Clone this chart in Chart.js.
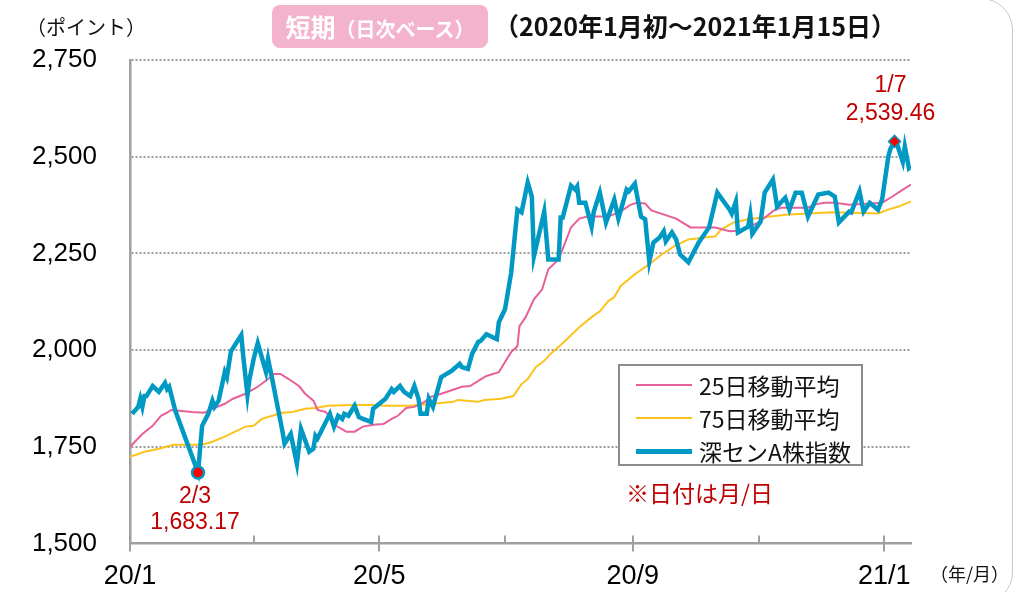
<!DOCTYPE html>
<html>
<head>
<meta charset="utf-8">
<script src="https://cdn.jsdelivr.net/npm/chart.js@4.4.0/dist/chart.umd.min.js"></script>
<style>
  body { margin: 0; background: #fff; font-family: "Noto Sans CJK JP", sans-serif; }
  #wrap { position: relative; width: 1017px; height: 592px; overflow: hidden; }
  #chart { position: absolute; left: 0; top: 0; }
  #frame { position: absolute; left: -40px; top: -2px; width: 1051px; height: 604px;
           border: 1.5px solid #c8c8c8; border-radius: 32px; }
  .unit { position: absolute; font-size: 19px; color: #111; white-space: nowrap; }
  #badge { position: absolute; left: 272px; top: 5px; width: 216px; height: 43px; background: #f4b3cd;
           border-radius: 8px; color: #fff; font-weight: bold; line-height: 43px; text-align: center; white-space: nowrap; }
  #badge .big { font-size: 25px; }
  #badge .small { font-size: 20px; }
  #period { position: absolute; left: 494px; top: 7px; font-size: 25px; font-weight: bold; color: #111; white-space: nowrap; }
  #legend { position: absolute; left: 618px; top: 364px; width: 241px; height: 98px; border: 2px solid #8c8c8c; background: #fff; }
  .row { position: absolute; left: 0; height: 30px; font-size: 23px; line-height: 30px; color: #111; white-space: nowrap; }
  .row i { position: absolute; left: 16px; top: 15px; width: 56px; }
  .row span { position: absolute; left: 79px; top: 0; }
  #note { position: absolute; left: 626px; top: 475px; font-size: 23px; color: #c00000; white-space: nowrap; }
</style>
</head>
<body>
<div id="wrap">
  <canvas id="chart" width="1017" height="592"></canvas>
  <div id="frame"></div>
  <div class="unit" style="left:26px;top:12px;font-size:20px;">（ポイント）</div>
  <div id="badge"><span class="big">短期</span><span class="small">（日次ベース）</span></div>
  <div id="period">（2020年1月初～2021年1月15日）</div>
  <div class="unit" style="left:930px;top:560px;font-size:18px;">（年/月）</div>
  <div id="legend"></div>
  <div id="note">※日付は月/日</div>
</div>
<script>
// days counted from 2020-01-01
const monthDays = [0, 60, 121, 182, 244, 305, 366];
const monthLabels = ['20/1', '', '20/5', '', '20/9', '', '21/1'];
const lastDay = 379;

const yTicks = [1500, 1750, 2000, 2250, 2500, 2750];

// 深センA株指数 (daily close)
const idxDays = [1,4,5,6,7,8,11,14,17,18,
  19,22,33,35,38,40,41,43,46,47,
  49,54,55,57,58,60,62,66,67,69,
  74,75,78,81,83,87,89,90,91,97,
  99,101,103,104,106,109,111,113,117,118,
  124,127,128,131,133,136,138,140,141,144,
  145,147,151,156,160,161,164,166,169,170,
  173,178,179,182,185,188,190,193,195,196,
  201,203,208,209,210,214,216,217,218,221,
  224,225,228,231,235,237,241,242,245,248,
  250,252,254,257,259,260,263,265,267,271,
  276,281,285,291,292,294,295,300,301,302,
  306,308,312,314,318,320,323,326,329,334,
  339,342,344,349,350,354,356,359,363,365,
  368,369,370,371,372,375,376,378,379];
const idxVals = [1835,1853,1874,1853,1881,1881,1907,1892,1915,1899,
  1905,1843,1683.17,1804,1835,1869,1853,1869,1943,1930,
  1997,2039,1982,1884,1925,1977,2018,1943,1977,1925,
  1789,1758,1783,1706,1796,1737,1745,1778,1771,1835,
  1802,1830,1822,1835,1830,1856,1827,1822,1814,1848,
  1874,1899,1892,1907,1892,1881,1907,1874,1835,1835,
  1874,1853,1930,1946,1964,1956,1951,1990,2021,2023,
  2041,2028,2072,2106,2201,2363,2356,2433,2397,2242,
  2358,2234,2234,2343,2343,2425,2415,2423,2381,2381,
  2319,2356,2407,2330,2389,2340,2415,2410,2430,2345,
  2338,2229,2278,2291,2307,2281,2304,2286,2247,2227,
  2278,2317,2407,2363,2353,2384,2304,2319,2350,2301,
  2332,2407,2441,2371,2394,2363,2407,2407,2345,2402,
  2407,2397,2330,2358,2356,2410,2358,2381,2363,2390,
  2500,2520,2530,2539.46,2536,2487,2526,2470,2474];

// 25日移動平均
const ma25Days = [0,6,11,15,18,20,30,36,40,46,50,56,62,67,70,73,77,82,85,89,91,95,100,105,109,113,118,123,127,130,
  134,138,143,146,151,155,161,165,169,173,179,182,185,188,189,192,196,200,203,208,214,218,222,232,238,243,246,250,253,265,
  272,284,291,297,305,313,316,329,332,337,342,349,365,370,375,379];
const ma25Vals = [1750,1783,1804,1830,1838,1845,1840,1838,1848,1861,1874,1887,1905,1925,1938,1938,1925,1907,1887,1869,1845,1840,1804,1789,1789,1802,1807,1809,1822,1830,
  1850,1853,1866,1879,1887,1894,1905,1907,1920,1933,1943,1969,1995,2010,2062,2085,2131,2157,2209,2234,2317,2340,2345,2345,2358,2376,2381,2379,2361,2340,
  2317,2317,2307,2309,2330,2363,2368,2368,2376,2381,2381,2376,2381,2397,2415,2428];

// 75日移動平均
const ma75Days = [0,7,14,21,35,40,46,51,56,60,64,69,74,79,85,90,96,108,118,124,136,157,159,169,172,180,186,190,193,197,
  201,204,209,213,218,224,228,232,235,238,245,252,258,264,271,284,287,293,300,307,318,341,363,368,373,379];
const ma75Vals = [1724,1737,1745,1755,1755,1763,1776,1789,1802,1804,1822,1830,1838,1840,1848,1850,1856,1858,1858,1856,1856,1866,1871,1866,1871,1874,1881,1912,1925,1956,
  1972,1990,2013,2033,2059,2085,2100,2126,2137,2165,2196,2222,2247,2268,2286,2294,2312,2330,2338,2343,2350,2356,2353,2363,2371,2384];

// marked low / high
const markDays = [33, 371];
const markVals = [1683.17, 2539.46];
const markDates = ['2/3', '1/7'];

const pts = (xs, ys) => xs.map((x, i) => ({x: x, y: ys[i]}));
const numFmt = v => v.toLocaleString('en-US', {minimumFractionDigits: 2});

const RED = '#c00000';
const BLUE = '#0099c4';

// month tick marks inside the axis
const axisMarks = {
  id: 'axisMarks',
  afterDraw(chart) {
    const {ctx, chartArea: {bottom}, scales: {x}} = chart;
    ctx.save();
    ctx.strokeStyle = '#a0a0a0';
    ctx.lineWidth = 2;
    monthDays.forEach((d, i) => {
      const px = Math.round(x.getPixelForValue(d));
      ctx.beginPath();
      ctx.moveTo(px, bottom - 8);
      ctx.lineTo(px, monthLabels[i] ? bottom + 8 : bottom);
      ctx.stroke();
    });
    ctx.restore();
  }
};

// labels for low and high points
const markText = {
  id: 'markText',
  afterDatasetsDraw(chart) {
    const {ctx, scales: {x, y}} = chart;
    ctx.save();
    ctx.font = '23px "Liberation Sans", Arial, sans-serif';
    ctx.fillStyle = RED;
    ctx.textAlign = 'center';
    ctx.textBaseline = 'middle';
    markDays.forEach((d, i) => {
      const px = x.getPixelForValue(d);
      const py = y.getPixelForValue(markVals[i]);
      if (i === 0) {
        ctx.fillText(markDates[i], px - 3, py + 24);
        ctx.fillText(numFmt(markVals[i]), px - 3, py + 50);
      } else {
        ctx.fillText(markDates[i], px - 4, py - 56);
        ctx.fillText(numFmt(markVals[i]), px - 4, py - 28);
      }
    });
    ctx.restore();
  }
};

const datasets = [
  {label: '25日移動平均', data: pts(ma25Days, ma25Vals), borderColor: '#e8609a', borderWidth: 2, order: 3},
  {label: '75日移動平均', data: pts(ma75Days, ma75Vals), borderColor: '#fbc31b', borderWidth: 2, order: 4},
  {label: '深センA株指数', data: pts(idxDays, idxVals), borderColor: BLUE, borderWidth: 4.5, order: 2},
  {label: 'low', data: [{x: markDays[0], y: markVals[0]}], showLine: false, pointRadius: 6,
    pointStyle: 'circle', pointBackgroundColor: '#ff0000', pointBorderColor: BLUE, pointBorderWidth: 2.5, order: 1},
  {label: 'high', data: [{x: markDays[1], y: markVals[1]}], showLine: false, pointRadius: 6,
    pointStyle: 'rectRot', pointBackgroundColor: '#ff0000', pointBorderColor: BLUE, pointBorderWidth: 1.5, order: 1}
];
datasets.slice(0, 3).forEach(ds => { ds.pointRadius = 0; ds.tension = 0; ds.fill = false; });

const tickFont = {family: '"Liberation Sans", Arial, sans-serif', size: 26};

const config = {
  type: 'line',
  data: {datasets: datasets},
  options: {
    responsive: false,
    animation: false,
    layout: {padding: {left: 0, right: 106, top: 60, bottom: 0}},
    plugins: {legend: {display: false}, tooltip: {enabled: false}},
    scales: {
      x: {
        type: 'linear', min: 0, max: lastDay,
        afterBuildTicks: s => { s.ticks = monthDays.map(v => ({value: v})); },
        afterFit: s => { s.height = 47; },
        ticks: {
          autoSkip: false, maxRotation: 0, padding: 17, color: '#000', font: {family: tickFont.family, size: 27},
          callback: v => monthLabels[monthDays.indexOf(v)] || ''
        },
        grid: {display: false, drawTicks: false},
        border: {color: '#a0a0a0', width: 2.5}
      },
      y: {
        min: yTicks[0], max: yTicks[yTicks.length - 1],
        afterBuildTicks: s => { s.ticks = yTicks.map(v => ({value: v})); },
        afterFit: s => { s.width = 130; },
        ticks: {padding: 33, color: '#000', font: tickFont, callback: v => v.toLocaleString('en-US')},
        grid: {drawTicks: false, lineWidth: 2, color: c => c.tick && c.tick.value === yTicks[0] ? 'rgba(0,0,0,0)' : '#9a9a9a'},
        border: {color: '#a0a0a0', width: 2.5, dash: [2, 2]}
      }
    }
  },
  plugins: [axisMarks, markText]
};

const chart = new Chart(document.getElementById('chart'), config);

// legend built from the three line datasets
const legend = document.getElementById('legend');
datasets.slice(0, 3).forEach((ds, i) => {
  const row = document.createElement('div');
  row.className = 'row';
  row.style.top = (4 + i * 33) + 'px';
  row.style.width = '241px';
  row.innerHTML = '<i style="border-top:' + (i === 2 ? 5 : 2) + 'px solid ' + ds.borderColor +
    ';margin-top:-' + (i === 2 ? 2 : 1) + 'px"></i><span>' + ds.label + '</span>';
  legend.appendChild(row);
});
</script>
</body>
</html>
